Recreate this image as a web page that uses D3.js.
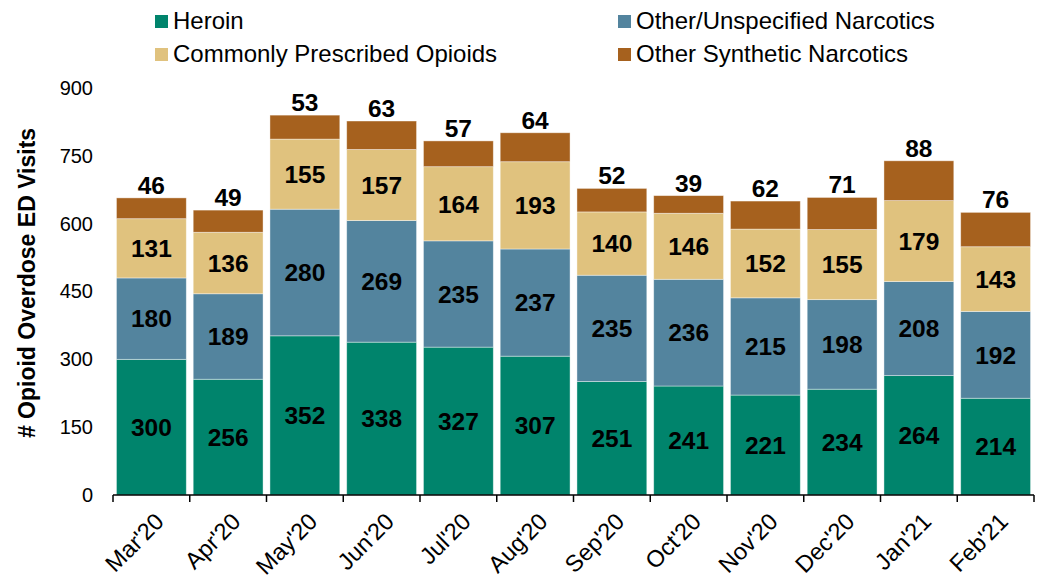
<!DOCTYPE html>
<html><head><meta charset="utf-8">
<script src="https://cdn.jsdelivr.net/npm/d3@7"></script>
<style>body{margin:0;background:#fff}svg{display:block}</style>
</head><body>
<svg id="c" width="1044" height="581"></svg>
<script>
const months = ["Mar'20","Apr'20","May'20","Jun'20","Jul'20","Aug'20","Sep'20","Oct'20","Nov'20","Dec'20","Jan'21","Feb'21"];
const heroin = [300,256,352,338,327,307,251,241,221,234,264,214];
const otherUnspecified = [180,189,280,269,235,237,235,236,215,198,208,192];
const commonlyPrescribed = [131,136,155,157,164,193,140,146,152,155,179,143];
const otherSynthetic = [46,49,53,63,57,64,52,39,62,71,88,76];
const seriesNames = ["Heroin","Other/Unspecified Narcotics","Commonly Prescribed Opioids","Other Synthetic Narcotics"];
const seriesColors = ["#00846C","#53849E","#E0C27E","#A6611E"];
const yTicks = [0,150,300,450,600,750,900];

const svg = d3.select("#c");
const font = "'Liberation Sans', Arial, sans-serif";
const x = d3.scaleBand().domain(months).range([113,1034]).paddingInner(0.09).paddingOuter(0.045);
const y = d3.scaleLinear().domain([0,900]).range([495,88]);

const seriesData = [heroin, otherUnspecified, commonlyPrescribed, otherSynthetic];
const table = months.map((m,i)=>{const o={month:m}; seriesNames.forEach((s,k)=>o[s]=seriesData[k][i]); return o;});
const stack = d3.stack().keys(seriesNames)(table);

stack.forEach((layer,k)=>{
  const g = svg.append("g");
  g.selectAll("rect").data(layer).enter().append("rect")
    .attr("x",d=>x(d.data.month)).attr("width",x.bandwidth())
    .attr("y",d=>y(d[1])).attr("height",d=>y(d[0])-y(d[1]))
    .attr("fill",seriesColors[k]).attr("stroke","rgba(255,255,255,0.5)").attr("stroke-width",0.8);
  if(k<3){
    g.selectAll("text").data(layer).enter().append("text")
      .attr("x",d=>x(d.data.month)+x.bandwidth()/2)
      .attr("y",d=>(y(d[0])+y(d[1]))/2)
      .attr("dy","0.36em").attr("text-anchor","middle")
      .attr("font-family",font).attr("font-weight","bold").attr("font-size",24.5)
      .attr("fill","#000").text(d=>d.data[seriesNames[k]]);
  } else {
    g.selectAll("text").data(layer).enter().append("text")
      .attr("x",d=>x(d.data.month)+x.bandwidth()/2)
      .attr("y",d=>y(d[1])-4)
      .attr("text-anchor","middle")
      .attr("font-family",font).attr("font-weight","bold").attr("font-size",24.5)
      .attr("fill","#000").text(d=>d.data[seriesNames[k]]);
  }
});

// y axis labels
const ya = svg.append("g").attr("transform","translate(113,0)")
  .call(d3.axisLeft(y).tickValues(yTicks).tickSize(0).tickPadding(20));
ya.select(".domain").remove();
ya.selectAll("text").attr("font-family",font).attr("font-size",20).attr("fill","#000");

// x axis
const xa = svg.append("g").attr("transform","translate(0,495)");
xa.append("line").attr("x1",113).attr("x2",1034).attr("y1",0).attr("y2",0).attr("stroke","#000").attr("stroke-width",1.5);
const bounds = months.map(m=>x(m)-x.step()*x.paddingInner()/2).concat([1034]);
bounds[0]=113;
xa.selectAll("line.t").data(bounds).enter().append("line").attr("class","t")
  .attr("x1",d=>d).attr("x2",d=>d).attr("y1",0).attr("y2",7).attr("stroke","#000").attr("stroke-width",1.5);
xa.selectAll("text").data(months).enter().append("text")
  .attr("transform",m=>`translate(${x(m)+x.bandwidth()/2+2},${16}) rotate(-45)`)
  .attr("text-anchor","end").attr("dy","0.72em")
  .attr("font-family",font).attr("font-size",23.5).attr("fill","#000").text(m=>m);

// y title
svg.append("text").attr("transform","translate(35,283) rotate(-90)")
  .attr("text-anchor","middle").attr("font-family",font).attr("font-weight","bold").attr("font-size",23)
  .attr("fill","#000").text("# Opioid Overdose ED Visits");

// legend
const legPos = [[155,29],[618,29],[155,62],[618,62]];
legPos.forEach(([lx,ly],k)=>{
  svg.append("rect").attr("x",lx).attr("y",ly-14).attr("width",13).attr("height",13).attr("fill",seriesColors[k]);
  svg.append("text").attr("x",lx+18).attr("y",ly)
    .attr("font-family",font).attr("font-size",24).attr("fill","#000").text(seriesNames[k]);
});
</script>
</body></html>
